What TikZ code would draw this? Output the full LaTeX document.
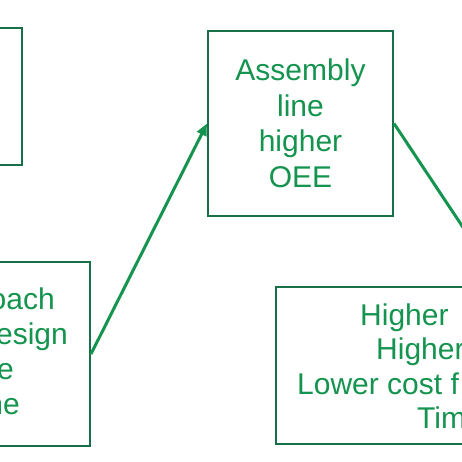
\documentclass[tikz,border=0pt]{standalone}
\usepackage{fontspec}
\setmainfont{Liberation Sans}
\usetikzlibrary{arrows.meta}
\definecolor{boxgreen}{RGB}{24,112,72}
\definecolor{txtgreen}{RGB}{20,148,78}
\begin{document}
\begin{tikzpicture}[x=1pt,y=-1pt,
  box/.style={draw=boxgreen, line width=2pt, rectangle, inner sep=0pt},
  txt/.style={text=txtgreen, font=\fontsize{30}{35.5}\selectfont, inner sep=0pt},
  conn/.style={draw=txtgreen, line width=3pt, -{Triangle[length=12pt,width=10pt]}}]
\useasboundingbox (0,0) rectangle (462,462);
\fill[white] (0,0) rectangle (462,462);
\clip (0,0) rectangle (462,462);
% boxes
\node[box, minimum width=172pt, minimum height=137pt] (tl) at (-64,96.5) {};
\node[box, minimum width=210pt, minimum height=184pt] (bl) at (-15,354) {};
\node[box, txt, align=center, minimum width=185pt, minimum height=185pt] (mid) at (300.5,123.5) {Assembly\\line\\higher\\OEE};
\node[box, minimum width=452pt, minimum height=157pt] (br) at (502,365.5) {};
% visible text parts of the cut boxes
\node[txt, anchor=base east] (bl1) at (55,309) {oach};
\node[txt, anchor=base east] (bl2) at (68,344) {esign};
\node[txt, anchor=base east] (bl3) at (14,379) {e};
\node[txt, anchor=base east] (bl4) at (20,414) {ne};
\node[txt, anchor=base west] (br1) at (360,325) {Higher};
\node[txt, anchor=base west] (br2) at (376,359.5) {Higher};
\node[txt, anchor=base west] (br3) at (297,394) {Lower cost f};
\node[txt, anchor=base west] (br4) at (417,428.5) {Tim};
% connectors
\draw[conn] (bl.east) -- (mid.west);
\draw[conn] (mid.east) -- (br.north);
\end{tikzpicture}
\end{document}
